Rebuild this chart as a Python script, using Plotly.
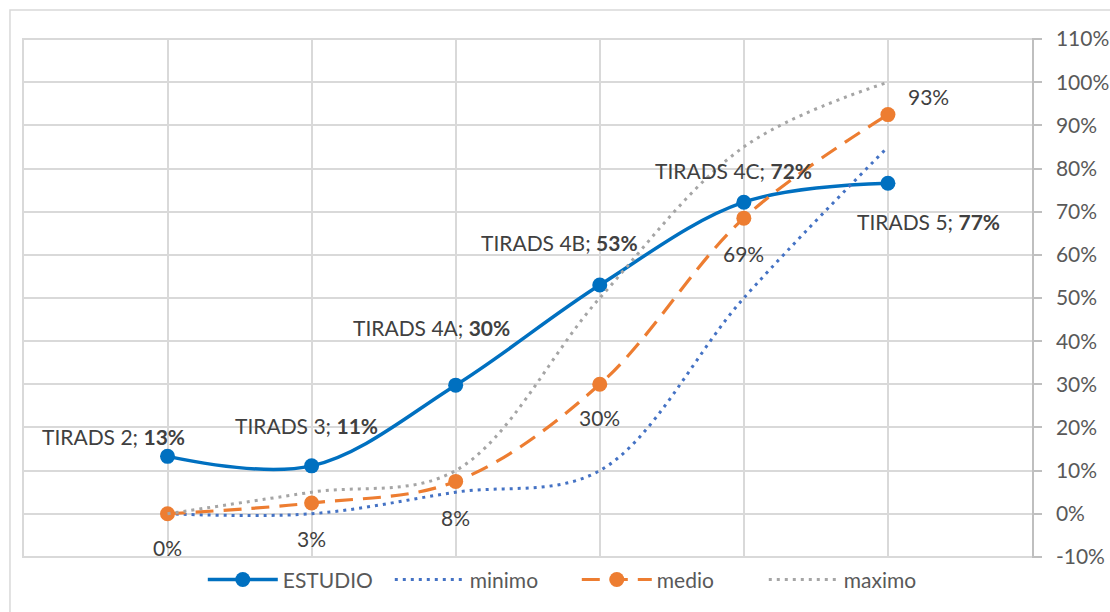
import plotly.graph_objects as go

# ---------------- data ----------------
categories = ["TIRADS 2", "TIRADS 3", "TIRADS 4A", "TIRADS 4B", "TIRADS 4C", "TIRADS 5"]
estudio = [13.3, 11.1, 29.8, 53.0, 72.2, 76.6]
minimo = [0, 0, 5, 10, 50, 85]
medio = [0, 2.5, 7.5, 30, 68.5, 92.5]
maximo = [0, 5, 10, 50, 85, 100]
y_tick_values = [-10, 0, 10, 20, 30, 40, 50, 60, 70, 80, 90, 100, 110]
y_tick_labels = ["-10%", "0%", "10%", "20%", "30%", "40%", "50%", "60%",
                 "70%", "80%", "90%", "100%", "110%"]

# ---------------- style ----------------
FONT = "Lato"
FS = 21
C_EST = "#0070C0"
C_MIN = "#4472C4"
C_MED = "#ED7D31"
C_MAX = "#A5A5A5"
GRID = "#D9D9D9"

x = list(range(len(categories)))

# label offsets (pixels) for the data labels
est_shift = [(-54, 20), (-5, 40), (-24, 58), (-40, 43), (-10, 32), (41, -38)]
med_shift = [(0, -34), (0, -36), (0, -36), (0, -33), (0, -35), (41, 18)]


def pct(v):
    return f"{int(v + 0.5)}%"


fig = go.Figure()
fig.add_trace(go.Scatter(
    x=x, y=estudio, name="ESTUDIO", mode="lines+markers",
    line=dict(color=C_EST, width=3.5, shape="spline", smoothing=1),
    marker=dict(color=C_EST, size=15),
))
fig.add_trace(go.Scatter(
    x=x, y=minimo, name="minimo", mode="lines",
    line=dict(color=C_MIN, width=3, shape="spline", smoothing=1, dash="3px,5px"),
))
fig.add_trace(go.Scatter(
    x=x, y=medio, name="medio", mode="lines+markers",
    line=dict(color=C_MED, width=3.2, shape="spline", smoothing=1, dash="18px,10px"),
    marker=dict(color=C_MED, size=15),
))
fig.add_trace(go.Scatter(
    x=x, y=maximo, name="maximo", mode="lines",
    line=dict(color=C_MAX, width=3, shape="spline", smoothing=1, dash="3px,5px"),
))

annotations = []
for i, (c, v) in enumerate(zip(categories, estudio)):
    dx, dy = est_shift[i]
    annotations.append(dict(
        x=x[i], y=v, xref="x", yref="y", text=f"{c}; <b>{pct(v)}</b>",
        showarrow=False, xshift=dx, yshift=dy,
        font=dict(family=FONT, size=FS, color="#404040"),
    ))
for i, v in enumerate(medio):
    dx, dy = med_shift[i]
    annotations.append(dict(
        x=x[i], y=v, xref="x", yref="y", text=pct(v),
        showarrow=False, xshift=dx, yshift=dy,
        font=dict(family=FONT, size=FS, color="#404040"),
    ))

fig.update_layout(
    width=1110, height=612,
    margin=dict(l=22, r=78, t=38, b=54, autoexpand=False),
    paper_bgcolor="white", plot_bgcolor="white",
    font=dict(family=FONT, size=FS, color="#595959"),
    showlegend=True,
    legend=dict(orientation="h", x=0.179, xanchor="left", y=-0.042, yanchor="middle",
                itemwidth=70, entrywidth=102, entrywidthmode="pixels",
                font=dict(family=FONT, size=FS, color="#595959"),
                bgcolor="rgba(0,0,0,0)"),
    annotations=annotations,
    shapes=[dict(type="rect", xref="paper", yref="paper",
                 x0=-0.0119, x1=1.09, y0=-0.12, y1=1.0538,
                 line=dict(color=GRID, width=1.5), fillcolor="rgba(0,0,0,0)", layer="below")],
)
fig.update_xaxes(
    range=[-1.01, 6], tickmode="linear", tick0=-1, dtick=1,
    showticklabels=False, showgrid=True, gridcolor=GRID, gridwidth=1.5,
    zeroline=False, showline=False, ticks="", automargin=False,
)
fig.update_yaxes(
    range=[-10.25, 110.25], side="right", tickmode="array",
    tickvals=y_tick_values, ticktext=y_tick_labels,
    showgrid=True, gridcolor=GRID, gridwidth=1.5, zeroline=False,
    showline=True, linecolor="#BFBFBF", linewidth=1.5,
    ticks="outside", ticklen=8, tickcolor="#BFBFBF", tickwidth=1.5,
    ticklabelstandoff=10,
    automargin=False,
    tickfont=dict(family=FONT, size=FS, color="#595959"),
)

fig.write_html("out.html")
